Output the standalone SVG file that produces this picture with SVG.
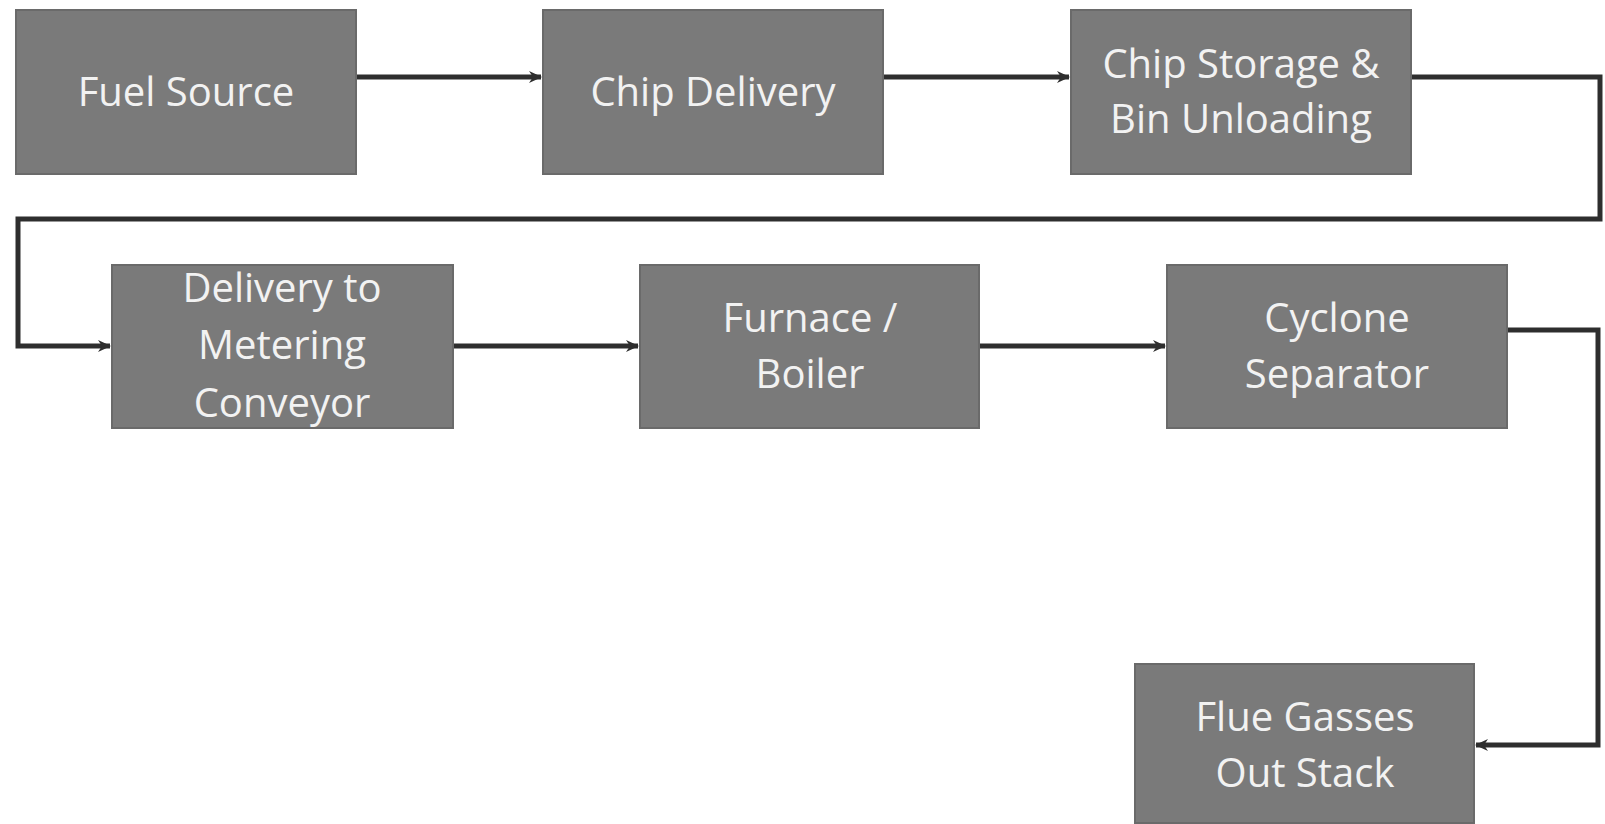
<svg xmlns="http://www.w3.org/2000/svg" width="1605" height="824" viewBox="0 0 1605 824">
<style>
.box{fill:#7a7a7a;stroke:#6a6a6a;stroke-width:2}
.lbl{font-family:"Open Sans",Lato,sans-serif;font-size:40px;fill:#f2f2f2;text-anchor:middle}
.c{fill:none;stroke:#2e2e2e;stroke-width:5;stroke-linejoin:miter}
</style>
<defs>
<marker id="ah" markerUnits="userSpaceOnUse" markerWidth="14" markerHeight="14" refX="12" refY="7" orient="auto">
<path d="M0,1 L13,7 L0,13 L4,7 Z" fill="#2e2e2e"/>
</marker>
</defs>
<rect width="1605" height="824" fill="#ffffff"/>
<g id="connectors">
<line class="c" x1="356" y1="77" x2="541" y2="77" marker-end="url(#ah)"/>
<line class="c" x1="883" y1="77" x2="1069" y2="77" marker-end="url(#ah)"/>
<path class="c" d="M1411,77 H1600 V219 H18 V346 H110" marker-end="url(#ah)"/>
<line class="c" x1="453" y1="346" x2="638" y2="346" marker-end="url(#ah)"/>
<line class="c" x1="979" y1="346" x2="1165" y2="346" marker-end="url(#ah)"/>
<path class="c" d="M1507,330 H1598 V745 H1476" marker-end="url(#ah)"/>
</g>
<g id="fuel-source">
<rect class="box" x="16" y="10" width="340" height="164"/>
<text class="lbl" x="186" y="106">Fuel Source</text>
</g>
<g id="chip-delivery">
<rect class="box" x="543" y="10" width="340" height="164"/>
<text class="lbl" x="713" y="106">Chip Delivery</text>
</g>
<g id="chip-storage">
<rect class="box" x="1071" y="10" width="340" height="164"/>
<text class="lbl" x="1241" y="78">Chip Storage &amp;</text>
<text class="lbl" x="1241" y="133">Bin Unloading</text>
</g>
<g id="delivery-metering">
<rect class="box" x="112" y="265" width="341" height="163"/>
<text class="lbl" x="282" y="302">Delivery to</text>
<text class="lbl" x="282" y="359">Metering</text>
<text class="lbl" x="282" y="417">Conveyor</text>
</g>
<g id="furnace-boiler">
<rect class="box" x="640" y="265" width="339" height="163"/>
<text class="lbl" x="810" y="332">Furnace /</text>
<text class="lbl" x="810" y="388">Boiler</text>
</g>
<g id="cyclone-separator">
<rect class="box" x="1167" y="265" width="340" height="163"/>
<text class="lbl" x="1337" y="332">Cyclone</text>
<text class="lbl" x="1337" y="388">Separator</text>
</g>
<g id="flue-gasses">
<rect class="box" x="1135" y="664" width="339" height="159"/>
<text class="lbl" x="1305" y="731">Flue Gasses</text>
<text class="lbl" x="1305" y="787">Out Stack</text>
</g>
</svg>
